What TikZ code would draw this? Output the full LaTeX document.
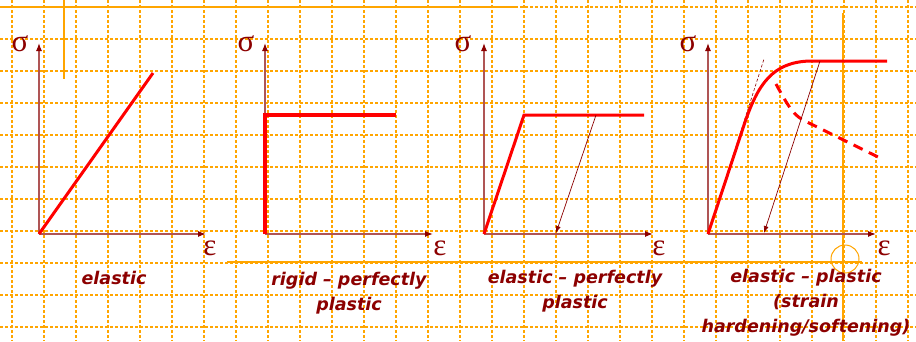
\documentclass[tikz,border=0pt]{standalone}
\usepackage{fontspec}
\setmainfont{DejaVu Sans}
\newfontfamily\greekfont{Liberation Serif}
\usetikzlibrary{arrows.meta}
\definecolor{gridorange}{RGB}{255,165,0}
\definecolor{axisred}{RGB}{175,85,85}
\definecolor{darkred}{RGB}{140,0,0}
\definecolor{curvered}{RGB}{255,0,0}
\tikzset{
  axis/.style={-{Latex[length=8pt,width=6pt,color=darkred]}, axisred, line width=1.2pt},
  unload/.style={-{Latex[length=7pt,width=5pt]}, darkred, line width=0.7pt},
  curve/.style={curvered, line width=3pt},
  gridline/.style={gridorange, line width=1.2pt, dash pattern=on 3pt off 2pt},
  guide/.style={gridorange, line width=1.5pt},
  caption/.style={darkred, font=\bfseries\itshape\fontsize{17.5}{25}\selectfont, align=center},
  greeklabel/.style={darkred, inner sep=0pt, font=\greekfont\fontsize{31}{31}\selectfont}
}
\begin{document}
\begin{tikzpicture}[x=1pt, y=-1pt]
  \useasboundingbox[fill=white] (0,0) rectangle (916,341);
  \foreach \gx in {12,44,...,908}
    \draw[gridline] (\gx,0) -- (\gx,341);
  \foreach \gy in {7,39,...,327}
    \draw[gridline] (0,\gy) -- (916,\gy);
  \draw[guide] (0,7) -- (515,7);
  \draw[guide] (64,0) -- (64,79);
  \draw[guide] (227,262) -- (862,262);
  \draw[guide] (843,13) -- (843,341);
  \draw[gridorange, line width=1pt] (845,259) circle (14);

  % elastic
  \coordinate (o1) at (39,234);
  \coordinate (s1) at (39,43);
  \coordinate (e1) at (206,234);
  \draw[axis] (o1) -- (s1);
  \draw[axis] (o1) -- (e1);
  \coordinate (top1) at (153,73);
  \draw[curve] (o1) -- (top1);
  \node[greeklabel] (sig1) at (20,44) {σ};
  \node[greeklabel] (eps1) at (210,248) {ε};
  \node[caption] (cap1) at (114,278) {elastic};

  % rigid - perfectly plastic
  \coordinate (o2) at (265,234);
  \coordinate (s2) at (265,43);
  \coordinate (e2) at (433,234);
  \draw[axis] (o2) -- (s2);
  \draw[axis] (o2) -- (e2);
  \coordinate (y2) at (265,115);
  \coordinate (end2) at (396,115);
  \draw[curve, line width=4pt, miter limit=10] (o2) -- (y2) -- (end2);
  \node[greeklabel] (sig2) at (246,44) {σ};
  \node[greeklabel] (eps2) at (440,248) {ε};
  \node[caption] (cap2) at (349,293) {rigid – perfectly\\plastic};

  % elastic - perfectly plastic
  \coordinate (o3) at (484,234);
  \coordinate (s3) at (484,43);
  \coordinate (e3) at (653,234);
  \draw[axis] (o3) -- (s3);
  \draw[axis] (o3) -- (e3);
  \coordinate (y3) at (524,115);
  \coordinate (end3) at (644,115);
  \draw[curve] (o3) -- (y3) -- (end3);
  \coordinate (from3) at (596,115);
  \coordinate (back3) at (556,233);
  \draw[unload] (from3) -- (back3);
  \node[greeklabel] (sig3) at (463,44) {σ};
  \node[greeklabel] (eps3) at (659,248) {ε};
  \node[caption] (cap3) at (575,291) {elastic – perfectly\\plastic};

  % elastic - plastic
  \coordinate (o4) at (708,234);
  \coordinate (s4) at (708,43);
  \coordinate (e4) at (876,234);
  \draw[axis] (o4) -- (s4);
  \draw[axis] (o4) -- (e4);
  \coordinate (tan4) at (764,59);
  \draw[darkred, line width=0.6pt, dash pattern=on 3pt off 2pt] (o4) -- (tan4);
  \coordinate (y4) at (745,122);
  \coordinate (end4) at (887,61);
  \draw[curve] (o4) -- (y4) .. controls (758,85) and (772,62) .. (810,61) -- (end4);
  \coordinate (soft4) at (776,84);
  \coordinate (endsoft4) at (878,157);
  \draw[curve, dash pattern=on 10pt off 7pt] (soft4) .. controls (790,110) and (795,116) .. (805,121) -- (endsoft4);
  \coordinate (from4) at (820,61);
  \coordinate (back4) at (764,233);
  \draw[unload] (from4) -- (back4);
  \node[greeklabel] (sig4) at (688,44) {σ};
  \node[greeklabel] (eps4) at (884,248) {ε};
  \node[caption] (cap4) at (806,303) {elastic – plastic\\(strain\\hardening/softening)};
\end{tikzpicture}
\end{document}
